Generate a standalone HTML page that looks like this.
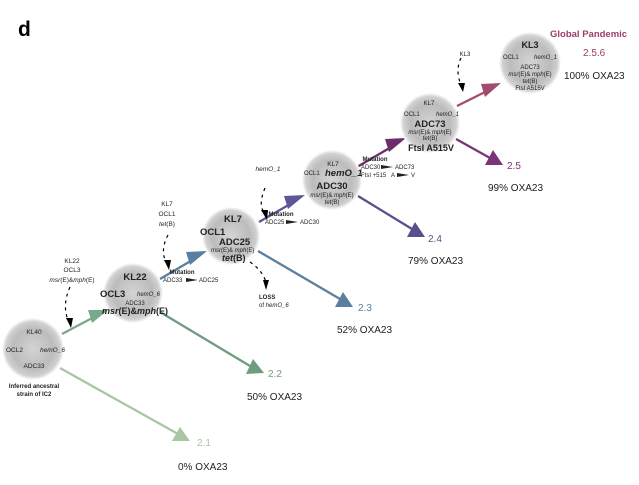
<!DOCTYPE html>
<html><head><meta charset="utf-8"><style>
html,body{margin:0;padding:0;background:#fff;}
svg{display:block;font-family:"Liberation Sans",sans-serif;}
</style></head><body>
<svg width="639" height="485" viewBox="0 0 639 485" xmlns="http://www.w3.org/2000/svg">
<defs>
<radialGradient id="g" cx="50%" cy="50%" r="50%">
<stop offset="0" stop-color="#d4d4d4"/><stop offset="0.65" stop-color="#bcbcbc"/><stop offset="0.88" stop-color="#d0d0d0"/><stop offset="1" stop-color="#ffffff"/>
</radialGradient>
</defs>
<text x="18" y="36" font-size="21" font-weight="bold">d</text>

<g stroke-width="2.3" fill="none">
<line x1="60" y1="368" x2="178" y2="434" stroke="#a9c6a3"/>
<line x1="62" y1="334" x2="96" y2="316" stroke="#7aa88a"/>
<line x1="160" y1="312" x2="250" y2="366" stroke="#6d9c80"/>
<line x1="160" y1="279" x2="194" y2="259" stroke="#5a7f9f"/>
<line x1="258" y1="251" x2="340" y2="299" stroke="#5a7f9f"/>
<line x1="259" y1="222" x2="292" y2="203" stroke="#5c5898"/>
<line x1="358" y1="196" x2="412" y2="229" stroke="#5a4f8c"/>
<line x1="357" y1="167" x2="393" y2="146" stroke="#6b2e6b"/>
<line x1="456" y1="139" x2="490" y2="158" stroke="#7a3478"/>
<line x1="457" y1="106" x2="489" y2="90" stroke="#a24b70"/>
</g>
<g>
<polygon points="190,441 172,441 180,427" fill="#a9c6a3"/>
<polygon points="108,310 92,323 88,310" fill="#7aa88a"/>
<polygon points="264,373 246,374 253,359" fill="#6d9c80"/>
<polygon points="207,251 190,265 186,252" fill="#5a7f9f"/>
<polygon points="353,307 335,307 343,292" fill="#5a7f9f"/>
<polygon points="305,195 288,209 284,196" fill="#5c5898"/>
<polygon points="425,237 407,237 415,222" fill="#5a4f8c"/>
<polygon points="406,138 389,152 385,139" fill="#6b2e6b"/>
<polygon points="503,165 485,165 493,150" fill="#7a3478"/>
<polygon points="501,83 485,97 481,84" fill="#a24b70"/>
</g>

<g stroke="#000" stroke-width="1.2" fill="none" stroke-dasharray="3,4">
<path d="M70 287 Q62 305 68 320"/>
<path d="M168 235 Q160 250 166 262"/>
<path d="M250 262 Q262 270 266 282"/>
<path d="M265 188 Q258 205 264 212"/>
<path d="M461 58 Q455 70 461 85"/>
</g>
<g fill="#000">
<polygon points="66,318 73,318 71,328"/>
<polygon points="164,260 171,260 169,270"/>
<polygon points="263,280 269,280 266,290"/>
<polygon points="261,210 268,210 267,220"/>
<polygon points="458,83 465,83 463,92"/>
</g>

<circle cx="33" cy="349" r="31" fill="url(#g)"/>
<circle cx="133" cy="293" r="30" fill="url(#g)"/>
<circle cx="231" cy="236" r="29" fill="url(#g)"/>
<circle cx="332" cy="180" r="30" fill="url(#g)"/>
<circle cx="430" cy="123" r="30" fill="url(#g)"/>
<circle cx="530" cy="63" r="31" fill="url(#g)"/>

<g font-size="6.5" fill="#222">
<text x="34" y="334" text-anchor="middle">KL40</text>
<text x="6" y="352">OCL2</text>
<text x="40" y="352" font-style="italic">hemO_6</text>
<text x="34" y="368" text-anchor="middle">ADC33</text>
<text x="34" y="388" text-anchor="middle" font-weight="bold" font-size="6">Inferred ancestral</text>
<text x="34" y="396" text-anchor="middle" font-weight="bold" font-size="6">strain of IC2</text>
<text x="72" y="263" text-anchor="middle">KL22</text>
<text x="72" y="272" text-anchor="middle">OCL3</text>
<text x="72" y="282" text-anchor="middle"><tspan font-style="italic">msr</tspan>(E)&amp;<tspan font-style="italic">mph</tspan>(E)</text>
<text x="135" y="280" text-anchor="middle" font-weight="bold" font-size="9.5">KL22</text>
<text x="100" y="297" font-weight="bold" font-size="9.5">OCL3</text>
<text x="137" y="296" font-style="italic" font-size="6">hemO_6</text>
<text x="135" y="305" text-anchor="middle" font-size="6">ADC33</text>
<text x="135" y="314" text-anchor="middle" font-weight="bold" font-size="9"><tspan font-style="italic">msr</tspan>(E)&amp;<tspan font-style="italic">mph</tspan>(E)</text>
<text x="182" y="274" text-anchor="middle" font-weight="bold" font-size="6">Mutation</text>
<text x="163" y="282" font-size="6">ADC33</text>
<polygon points="186,278 198,280 186,282"/>
<text x="199" y="282" font-size="6">ADC25</text>
<text x="167" y="206" text-anchor="middle">KL7</text>
<text x="167" y="216" text-anchor="middle">OCL1</text>
<text x="167" y="226" text-anchor="middle"><tspan font-style="italic">tet</tspan>(B)</text>
<text x="233" y="222" text-anchor="middle" font-weight="bold" font-size="9.5">KL7</text>
<text x="200" y="235" font-weight="bold" font-size="9.5">OCL1</text>
<text x="219" y="245" font-weight="bold" font-size="9.5">ADC25</text>
<text x="211" y="252" font-size="6"><tspan font-style="italic">msr</tspan>(E)&amp; <tspan font-style="italic">mph</tspan>(E)</text>
<text x="222" y="261" font-weight="bold" font-size="9"><tspan font-style="italic">tet</tspan>(B)</text>
<text x="259" y="299" font-weight="bold" font-size="6">LOSS</text>
<text x="259" y="307" font-size="6">of <tspan font-style="italic">hemO_6</tspan></text>
<text x="281" y="216" text-anchor="middle" font-weight="bold" font-size="6">Mutation</text>
<text x="265" y="224" font-size="6">ADC25</text>
<polygon points="286,220 298,222 286,224"/>
<text x="300" y="224" font-size="6">ADC30</text>
<text x="268" y="171" text-anchor="middle" font-style="italic">hemO_1</text>
<text x="333" y="166" text-anchor="middle">KL7</text>
<text x="304" y="175" font-size="6">OCL1</text>
<text x="325" y="176" font-weight="bold" font-style="italic" font-size="9.5">hemO_1</text>
<text x="332" y="189" text-anchor="middle" font-weight="bold" font-size="9.5">ADC30</text>
<text x="332" y="197" text-anchor="middle" font-size="6"><tspan font-style="italic">msr</tspan>(E)&amp; <tspan font-style="italic">mph</tspan>(E)</text>
<text x="332" y="204" text-anchor="middle" font-size="6"><tspan font-style="italic">tet</tspan>(B)</text>
<text x="375" y="161" text-anchor="middle" font-weight="bold" font-size="6">Mutation</text>
<text x="361" y="169" font-size="6">ADC30</text>
<polygon points="381,165 393,167 381,169"/>
<text x="395" y="169" font-size="6">ADC73</text>
<text x="361" y="177" font-size="6">FtsI +515</text>
<text x="391" y="177" font-size="6">A</text>
<polygon points="397,173 409,175 397,177"/>
<text x="411" y="177" font-size="6">V</text>
<text x="429" y="105" text-anchor="middle" font-size="6">KL7</text>
<text x="404" y="116" font-size="6">OCL1</text>
<text x="436" y="116" font-style="italic" font-size="6">hemO_1</text>
<text x="430" y="127" text-anchor="middle" font-weight="bold" font-size="9.5">ADC73</text>
<text x="430" y="134" text-anchor="middle" font-size="6"><tspan font-style="italic">msr</tspan>(E)&amp; <tspan font-style="italic">mph</tspan>(E)</text>
<text x="430" y="140" text-anchor="middle" font-size="6"><tspan font-style="italic">tet</tspan>(B)</text>
<text x="431" y="151" text-anchor="middle" font-weight="bold" font-size="9">FtsI A515V</text>
<text x="465" y="56" text-anchor="middle" font-size="6">KL3</text>
<text x="530" y="48" text-anchor="middle" font-weight="bold" font-size="9">KL3</text>
<text x="503" y="59" font-size="6">OCL1</text>
<text x="534" y="59" font-style="italic" font-size="6">hemO_1</text>
<text x="530" y="69" text-anchor="middle" font-size="6">ADC73</text>
<text x="530" y="76" text-anchor="middle" font-size="6"><tspan font-style="italic">msr</tspan>(E)&amp; <tspan font-style="italic">mph</tspan>(E)</text>
<text x="530" y="83" text-anchor="middle" font-size="6"><tspan font-style="italic">tet</tspan>(B)</text>
<text x="530" y="90" text-anchor="middle" font-size="6">FtsI A515V</text>
</g>

<g font-size="10">
<text x="197" y="446" fill="#a9c6a3">2.1</text>
<text x="178" y="470" fill="#222">0% OXA23</text>
<text x="268" y="377" fill="#6d9c80">2.2</text>
<text x="247" y="400" fill="#222">50% OXA23</text>
<text x="358" y="311" fill="#5a7f9f">2.3</text>
<text x="337" y="333" fill="#222">52% OXA23</text>
<text x="428" y="242" fill="#5a4f8c">2.4</text>
<text x="408" y="264" fill="#222">79% OXA23</text>
<text x="507" y="169" fill="#7a3478">2.5</text>
<text x="488" y="191" fill="#222">99% OXA23</text>
<text x="550" y="37" fill="#9b3e68" font-weight="bold" font-size="9.5">Global Pandemic</text>
<text x="583" y="56" fill="#9b3e68">2.5.6</text>
<text x="564" y="79" fill="#222">100% OXA23</text>
</g>
</svg>
</body></html>
